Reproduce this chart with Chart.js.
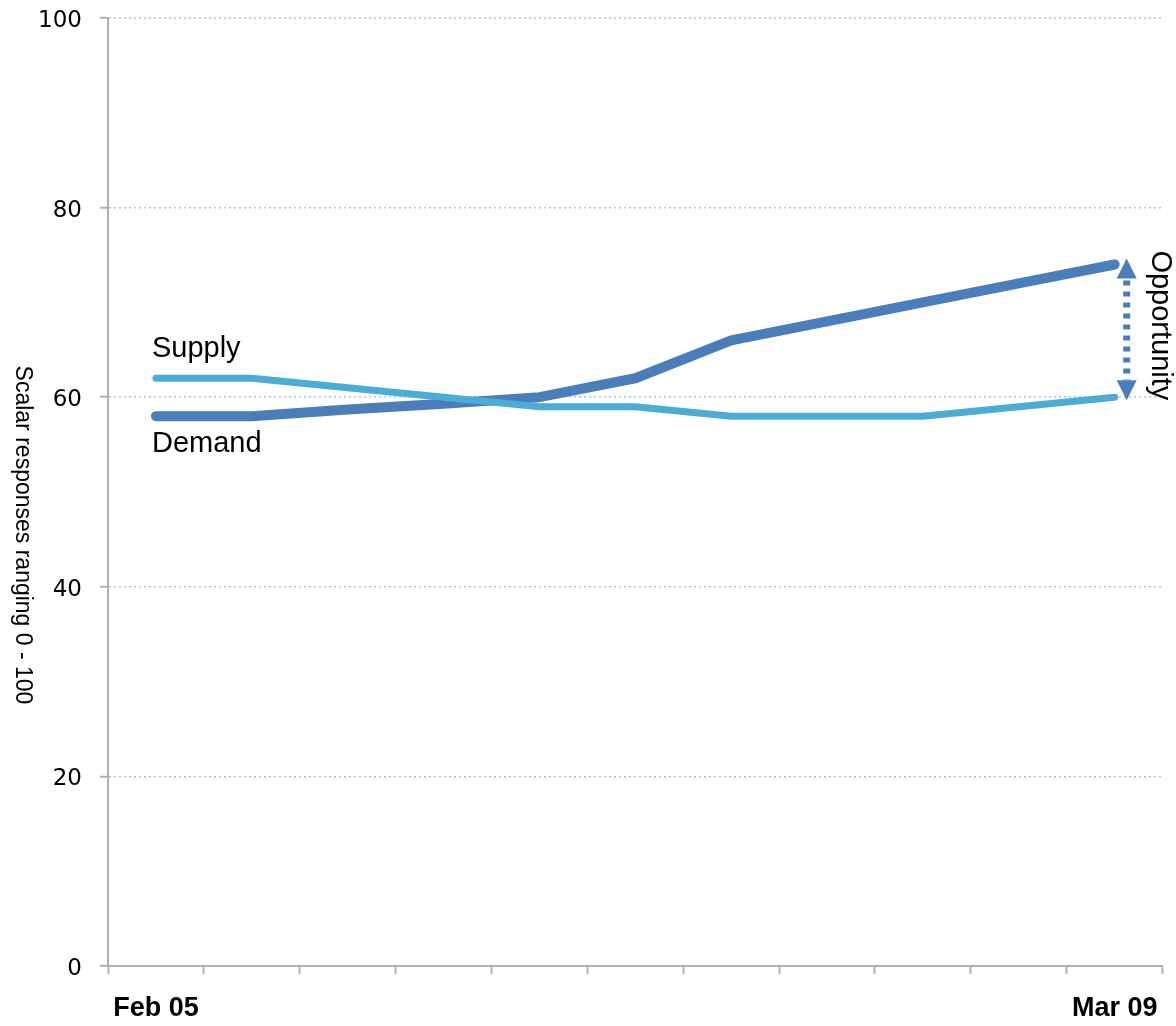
<!DOCTYPE html>
<html>
<head>
<meta charset="utf-8">
<script src="https://cdn.jsdelivr.net/npm/chart.js@4"></script>
<style>
  html, body { margin: 0; padding: 0; background: #fff; }
  #wrap { width: 1176px; height: 1026px; }
</style>
</head>
<body>
<div id="wrap"><canvas id="myChart"></canvas></div>
<script>
const tickLabels = ["Feb 05", "", "", "", "", "", "", "", "", "", "Mar 09"];
const supplyValues = [62, 62, 61, 60, 59, 59, 58, 58, 58, 59, 60];
const demandValues = [58, 58, 58.7, 59.3, 60, 62, 66, 68, 70, 72, 74];
const yTicks = [0, 20, 40, 60, 80, 100];

const demandColor = "#4a7ebb";
const supplyColor = "#4bacd6";

// texte et fleche dessines par dessus
const annotations = {
    id: "annotations",
    afterDraw(chart) {
        const ctx = chart.ctx;
        const x = chart.scales.x;
        const y = chart.scales.y;
        const last = tickLabels.length - 1;

        const x0 = x.getPixelForValue(0);
        ctx.save();
        ctx.fillStyle = "#000";
        ctx.font = "29px 'Liberation Sans', Arial, sans-serif";
        ctx.textAlign = "left";
        ctx.textBaseline = "alphabetic";
        ctx.fillText("Supply", x0 - 4, y.getPixelForValue(supplyValues[0]) - 21);
        ctx.fillText("Demand", x0 - 4, y.getPixelForValue(demandValues[0]) + 36);
        ctx.restore();

        // fleche "Opportunity"
        const ax = x.getPixelForValue(last) + 12;
        const top = y.getPixelForValue(demandValues[last]) - 6;
        const bottom = y.getPixelForValue(supplyValues[last]) + 3;
        ctx.save();
        ctx.strokeStyle = demandColor;
        ctx.fillStyle = demandColor;
        ctx.lineWidth = 7;
        ctx.setLineDash([5, 6]);
        ctx.beginPath();
        ctx.moveTo(ax, top + 22);
        ctx.lineTo(ax, bottom - 20);
        ctx.stroke();
        ctx.beginPath();
        ctx.moveTo(ax, top);
        ctx.lineTo(ax - 10, top + 20);
        ctx.lineTo(ax + 10, top + 20);
        ctx.closePath();
        ctx.fill();
        ctx.beginPath();
        ctx.moveTo(ax, bottom);
        ctx.lineTo(ax - 10, bottom - 20);
        ctx.lineTo(ax + 10, bottom - 20);
        ctx.closePath();
        ctx.fill();
        ctx.restore();

        ctx.save();
        ctx.fillStyle = "#000";
        ctx.font = "29px 'Liberation Sans', Arial, sans-serif";
        ctx.translate(ax + 33, (top + bottom) / 2 - 4);
        ctx.rotate(Math.PI / 2);
        ctx.textAlign = "center";
        ctx.textBaseline = "middle";
        ctx.fillText("Opportunity", 0, 0);
        ctx.restore();

        // titre axe y, lu de haut en bas
        ctx.save();
        ctx.fillStyle = "#000";
        ctx.font = "23px 'Liberation Sans', Arial, sans-serif";
        ctx.translate(22, 535);
        ctx.rotate(Math.PI / 2);
        ctx.textAlign = "center";
        ctx.textBaseline = "middle";
        ctx.fillText("Scalar responses ranging 0 - 100", 0, 0);
        ctx.restore();
    }
};

const config = {
    type: "line",
    data: {
        labels: tickLabels,
        datasets: [
            {
                label: "Supply",
                data: supplyValues,
                borderColor: supplyColor,
                borderWidth: 7,
                borderCapStyle: "round",
                borderJoinStyle: "round",
                pointRadius: 0,
                tension: 0
            },
            {
                label: "Demand",
                data: demandValues,
                borderColor: demandColor,
                borderWidth: 10,
                borderCapStyle: "round",
                borderJoinStyle: "round",
                pointRadius: 0,
                tension: 0
            }
        ]
    },
    options: {
        responsive: true,
        maintainAspectRatio: false,
        animation: false,
        layout: { padding: { top: 18, right: 12, left: 0, bottom: 0 } },
        plugins: {
            legend: { display: false },
            tooltip: { enabled: false }
        },
        scales: {
            x: {
                offset: true,
                grid: {
                    offset: true,
                    drawOnChartArea: false,
                    drawTicks: true,
                    tickLength: 8,
                    tickColor: "#b0b0b0",
                    tickWidth: 2
                },
                border: { color: "#b0b0b0", width: 2 },
                ticks: {
                    autoSkip: false,
                    maxRotation: 0,
                    padding: 18,
                    color: "#000",
                    font: { family: "'Liberation Sans', Arial, sans-serif", size: 27, weight: "bold" }
                },
                afterFit: (scale) => { scale.height = 60; }
            },
            y: {
                min: 0,
                max: 100,
                afterBuildTicks: (scale) => { scale.ticks = yTicks.map((v) => ({ value: v })); },
                grid: {
                    color: (c) => (c.tick && c.tick.value === 0 ? "rgba(0,0,0,0)" : "#aac3ee"),
                    lineWidth: 1.5,
                    drawTicks: true,
                    tickLength: 8,
                    tickColor: "#b0b0b0",
                    tickWidth: 2
                },
                border: { color: "#b0b0b0", width: 2, dash: [2, 3] },
                ticks: {
                    padding: 18,
                    labelOffset: 3,
                    color: "#000",
                    font: { family: "'DejaVu Sans', sans-serif", size: 23 }
                },
                afterFit: (scale) => {
                    scale.width = 108;
                    scale.paddingTop = 0;
                }
            }
        }
    },
    plugins: [annotations]
};

const myChart = new Chart(document.querySelector("#myChart"), config);
</script>
</body>
</html>
